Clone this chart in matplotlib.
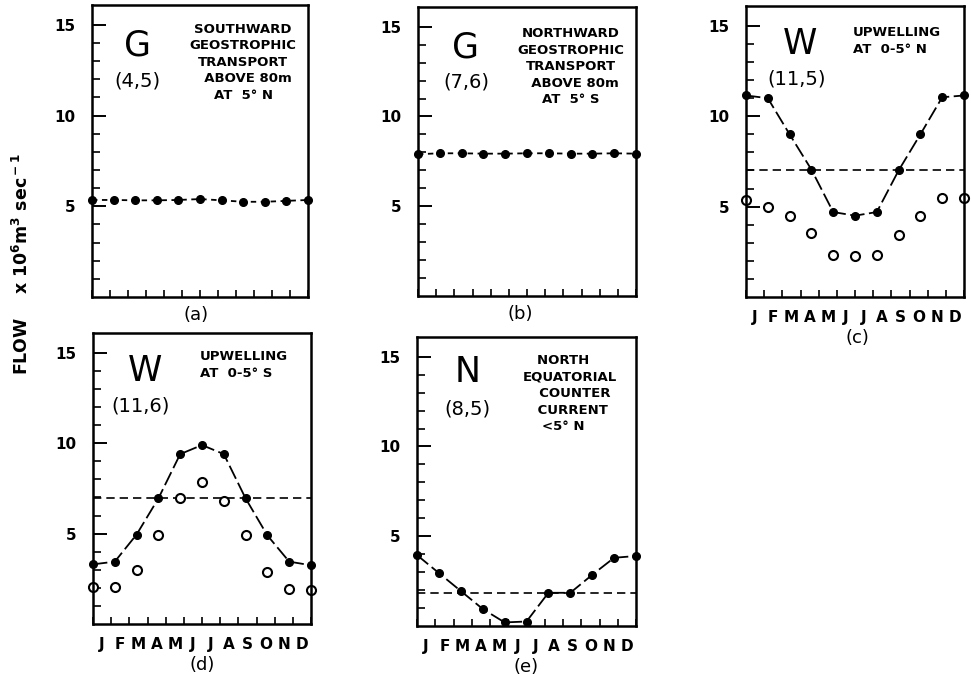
import matplotlib
matplotlib.use("Agg")
import matplotlib.pyplot as plt
import numpy as np

W, H = 971, 675

# x positions of the points in month units (11 points over Jan..Dec)
x_pts = [0, 1.2, 2.4, 3.6, 4.8, 6.0, 7.2, 8.4, 9.6, 10.8, 12.0]
months = ["J", "F", "M", "A", "M", "J", "J", "A", "S", "O", "N", "D"]

# (a) G (4,5)
a_flow = [5.35, 5.35, 5.33, 5.33, 5.35, 5.4, 5.33, 5.25, 5.25, 5.3, 5.35]
# (b) G (7,6)
b_flow = [7.9, 7.95, 7.95, 7.93, 7.93, 7.95, 7.95, 7.93, 7.93, 7.95, 7.93]
# (c) W (11,5)
c_flow = [11.15, 11.0, 9.0, 7.05, 4.7, 4.5, 4.7, 7.0, 9.0, 11.05, 11.15]
c_open = [5.35, 5.0, 4.5, 3.55, 2.35, 2.25, 2.35, 3.45, 4.5, 5.5, 5.45]
c_mean = 7.0
# (d) W (11,6)
d_flow = [3.3, 3.45, 4.95, 6.95, 9.4, 9.9, 9.4, 6.95, 4.9, 3.45, 3.25]
d_open = [2.05, 2.05, 3.0, 4.95, 6.95, 7.85, 6.8, 4.9, 2.9, 1.95, 1.9]
d_mean = 6.95
# (e) N (8,5)
e_flow = [3.95, 2.95, 1.95, 0.95, 0.2, 0.25, 1.85, 1.85, 2.85, 3.8, 3.9]
e_mean = 1.85

fig = plt.figure(figsize=(W / 100, H / 100), dpi=100)


def make_ax(left, right, top, bottom):
    ax = fig.add_axes([left / W, 1 - bottom / H, (right - left) / W, (bottom - top) / H])
    ax.set_xlim(0, 12)
    ax.set_ylim(0, 16.1)
    ax.set_yticks([5, 10, 15])
    ax.set_yticks(range(1, 16), minor=True)
    ax.set_xticks(range(13))
    ax.tick_params(axis="y", which="major", direction="in", length=10, width=1.4, pad=12)
    ax.tick_params(axis="y", which="minor", direction="in", length=6, width=1.2)
    ax.tick_params(axis="x", which="major", direction="in", length=5, width=1.2, labelbottom=False)
    for lab in ax.get_yticklabels():
        lab.set_fontweight("bold")
        lab.set_fontsize(11)
    for s in ax.spines.values():
        s.set_linewidth(1.8)
    return ax


def month_labels(ax):
    for i, m in enumerate(months):
        ax.text(i + 0.5, -0.045, m, transform=ax.get_xaxis_transform(),
                ha="center", va="top", fontsize=11, fontweight="bold")


def panel_text(ax, big, code, desc, bx, by, cx, cy, dx, dy, ha="center"):
    ax.text(bx, by, big, transform=ax.transAxes, ha="center", va="center", fontsize=25)
    ax.text(cx, cy, code, transform=ax.transAxes, ha="center", va="center", fontsize=14)
    ax.text(dx, dy, desc, transform=ax.transAxes, ha=ha, va="top", fontsize=9.5,
            fontweight="bold", multialignment=ha, linespacing=1.35)


flat_ls = (0, (3, 2.5))
curve_ls = (0, (8, 2.5))
mean_ls = (0, (5, 3))

# (a)
ax = make_ax(92, 308, 5, 297)
ax.plot(x_pts, a_flow, color="black", ls=flat_ls, lw=1.3, marker="o", ms=5.5, clip_on=False)
panel_text(ax, "G", "(4,5)", "SOUTHWARD\nGEOSTROPHIC\nTRANSPORT\n  ABOVE 80m\nAT  5° N",
           0.21, 0.86, 0.21, 0.74, 0.70, 0.94)
ax.text(0.48, -0.03, "(a)", transform=ax.transAxes, ha="center", va="top", fontsize=13)

# (b)
ax = make_ax(418, 636, 7, 296)
ax.plot(x_pts, b_flow, color="black", ls=flat_ls, lw=1.3, marker="o", ms=5.5, clip_on=False)
panel_text(ax, "G", "(7,6)", "NORTHWARD\nGEOSTROPHIC\nTRANSPORT\n  ABOVE 80m\nAT  5° S",
           0.22, 0.86, 0.22, 0.74, 0.70, 0.93)
ax.text(0.47, -0.03, "(b)", transform=ax.transAxes, ha="center", va="top", fontsize=13)

# (c)
ax = make_ax(746, 964, 6, 297)
ax.axhline(c_mean, color="black", ls=mean_ls, lw=1.2)
ax.plot(x_pts, c_flow, color="black", ls=curve_ls, lw=1.3, marker="o", ms=5.5, clip_on=False)
ax.plot(x_pts, c_open, ls="none", marker="o", ms=6.5, mfc="white", mec="black", mew=1.5, clip_on=False)
panel_text(ax, "W", "(11,5)", "UPWELLING\nAT  0-5° N",
           0.25, 0.87, 0.23, 0.75, 0.49, 0.93, ha="left")
month_labels(ax)
ax.text(0.51, -0.11, "(c)", transform=ax.transAxes, ha="center", va="top", fontsize=13)

# (d)
ax = make_ax(93, 311, 333, 624)
ax.axhline(d_mean, color="black", ls=mean_ls, lw=1.2)
ax.plot(x_pts, d_flow, color="black", ls=curve_ls, lw=1.3, marker="o", ms=5.5, clip_on=False)
ax.plot(x_pts, d_open, ls="none", marker="o", ms=6.5, mfc="white", mec="black", mew=1.5, clip_on=False)
panel_text(ax, "W", "(11,6)", "UPWELLING\nAT  0-5° S",
           0.24, 0.87, 0.22, 0.75, 0.49, 0.94, ha="left")
month_labels(ax)
ax.text(0.50, -0.11, "(d)", transform=ax.transAxes, ha="center", va="top", fontsize=13)

# (e)
ax = make_ax(417, 636, 337, 626)
ax.axhline(e_mean, color="black", ls=mean_ls, lw=1.2)
ax.plot(x_pts, e_flow, color="black", ls=curve_ls, lw=1.3, marker="o", ms=5.5, clip_on=False)
panel_text(ax, "N", "(8,5)", "NORTH   \nEQUATORIAL\n  COUNTER\n CURRENT\n<5° N   ",
           0.23, 0.88, 0.23, 0.75, 0.70, 0.94)
month_labels(ax)
ax.text(0.50, -0.11, "(e)", transform=ax.transAxes, ha="center", va="top", fontsize=13)

fig.text(22 / W, 1 - 264 / H, "FLOW    x 10$^{\\bf 6}$m$^{\\bf 3}$ sec$^{\\bf -1}$",
         rotation=90, ha="center", va="center", fontsize=12.5, fontweight="bold")

fig.savefig("out.png", dpi=100)
